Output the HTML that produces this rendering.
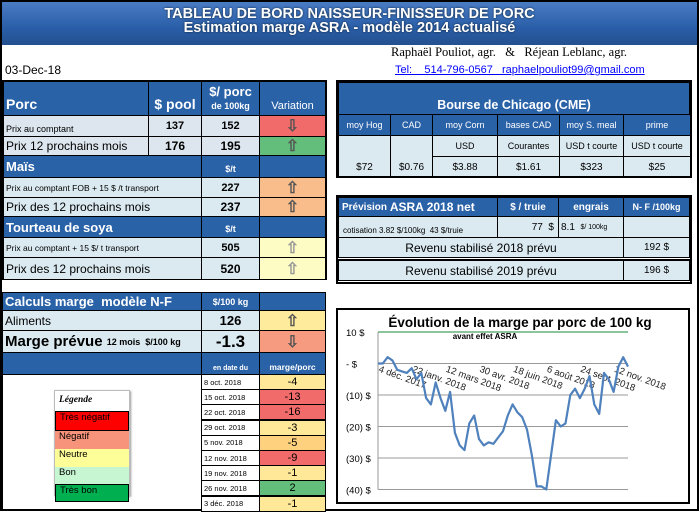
<!DOCTYPE html>
<html><head><meta charset="utf-8"><style>
body{margin:0;width:699px;height:511px;position:relative;overflow:hidden;background:#fff;font-family:"Liberation Sans",sans-serif;}
.a{position:absolute;box-sizing:border-box;}
.c{position:absolute;box-sizing:border-box;border:1px solid #000;display:flex;align-items:center;overflow:hidden;white-space:nowrap;}
.h{background:#2a62a8;color:#fff;font-weight:bold;}
.l{background:#dbeaf1;}
.ctr{justify-content:center;}
.arr{font-size:16px;color:#555;font-weight:bold;}
</style></head><body>
<div class="a" style="left:0;top:0;width:699px;height:511px;border:2px solid #000;"></div>
<div class="a" style="left:2px;top:2px;width:695px;height:43px;background:linear-gradient(#4a7cc4,#2a5ea8 60%,#23508f);color:#fff;font-weight:bold;text-align:center;font-size:14.5px;line-height:14px;padding-top:5px;text-shadow:0 0 2px #123;">
<div>TABLEAU DE BORD NAISSEUR-FINISSEUR DE PORC</div>
<div>Estimation marge ASRA - modèle 2014 actualisé</div></div>
<div class="a" style="left:5px;top:63px;font-size:12px;">03-Dec-18</div>
<div class="a" style="left:391px;top:45px;font-family:'Liberation Serif',serif;font-size:12.5px;white-space:nowrap;">Raphaël Pouliot, agr. &nbsp;&nbsp;&amp;&nbsp;&nbsp; Réjean Leblanc, agr.</div>
<div class="a" style="left:395px;top:64px;font-size:11px;color:#00f;text-decoration:underline;white-space:nowrap;">Tel: &nbsp;&nbsp;&nbsp;514-796-0567 &nbsp;&nbsp;raphaelpouliot99@gmail.com</div>

<div class="a" style="left:2px;top:80px;width:325px;height:200px;border:1px solid #000;"></div>
<div class="c h" style="left:3px;top:81px;width:146px;height:35px;font-size:14px;align-items:flex-end;padding:0 0 3px 2px;">Porc</div>
<div class="c h ctr" style="left:148px;top:81px;width:54px;height:35px;font-size:14px;align-items:flex-end;padding-bottom:3px;">$ pool</div>
<div class="c h ctr" style="left:201px;top:81px;width:59px;height:35px;font-size:13px;flex-direction:column;line-height:14px;"><span>$/ porc</span><span style="font-size:9px">de 100kg</span></div>
<div class="c h ctr" style="left:259px;top:81px;width:67px;height:35px;font-size:11px;font-weight:normal;align-items:flex-end;padding-bottom:3px;">Variation</div>

<div class="c" style="left:3px;top:115px;width:146px;height:22px;background:#dde6ee;font-size:9px;padding-left:2px;padding-top:5px;">Prix au comptant</div>
<div class="c ctr" style="left:148px;top:115px;width:54px;height:22px;background:#dde6ee;font-size:11px;font-weight:bold;">137</div>
<div class="c ctr" style="left:201px;top:115px;width:59px;height:22px;background:#dde6ee;font-size:11px;font-weight:bold;">152</div>
<div class="c ctr arr" style="left:259px;top:115px;width:67px;height:22px;background:#f26b6b;">⇩</div>

<div class="c" style="left:3px;top:136px;width:146px;height:20px;background:#dde6ee;font-size:12px;padding-left:2px;">Prix 12 prochains mois</div>
<div class="c ctr" style="left:148px;top:136px;width:54px;height:20px;background:#dde6ee;font-size:12px;font-weight:bold;">176</div>
<div class="c ctr" style="left:201px;top:136px;width:59px;height:20px;background:#dde6ee;font-size:12px;font-weight:bold;">195</div>
<div class="c ctr arr" style="left:259px;top:136px;width:67px;height:20px;background:#63be7b;">⇧</div>

<div class="c h" style="left:3px;top:155px;width:199px;height:23px;font-size:13px;padding-left:2px;">Maïs</div>
<div class="c h ctr" style="left:201px;top:155px;width:59px;height:23px;font-size:9px;padding-top:4px;">$/t</div>
<div class="c h" style="left:259px;top:155px;width:67px;height:23px;"></div>
<div class="c l" style="left:3px;top:177px;width:199px;height:21px;font-size:8.5px;padding-left:2px;">Prix au comptant FOB + 15 $ /t transport</div>
<div class="c l ctr" style="left:201px;top:177px;width:59px;height:21px;font-size:11px;font-weight:bold;">227</div>
<div class="c ctr arr" style="left:259px;top:177px;width:67px;height:21px;background:#f9bd8c;">⇧</div>
<div class="c l" style="left:3px;top:197px;width:199px;height:20px;font-size:12px;padding-left:2px;">Prix des 12 prochains mois</div>
<div class="c l ctr" style="left:201px;top:197px;width:59px;height:20px;font-size:12px;font-weight:bold;">237</div>
<div class="c ctr arr" style="left:259px;top:197px;width:67px;height:20px;background:#f9bd8c;">⇧</div>

<div class="c h" style="left:3px;top:216px;width:199px;height:22px;font-size:13px;padding-left:2px;">Tourteau de soya</div>
<div class="c h ctr" style="left:201px;top:216px;width:59px;height:22px;font-size:9px;padding-top:4px;">$/t</div>
<div class="c h" style="left:259px;top:216px;width:67px;height:22px;"></div>
<div class="c l" style="left:3px;top:237px;width:199px;height:21px;font-size:8.5px;padding-left:2px;">Prix au comptant + 15 $/ t transport</div>
<div class="c l ctr" style="left:201px;top:237px;width:59px;height:21px;font-size:11px;font-weight:bold;">505</div>
<div class="c ctr arr" style="left:259px;top:237px;width:67px;height:21px;background:#fdfcc4;color:#999;">⇧</div>
<div class="c l" style="left:3px;top:257px;width:199px;height:23px;font-size:12px;padding-left:2px;">Prix des 12 prochains mois</div>
<div class="c l ctr" style="left:201px;top:257px;width:59px;height:23px;font-size:12px;font-weight:bold;">520</div>
<div class="c ctr arr" style="left:259px;top:257px;width:67px;height:23px;background:#fdfcc4;color:#999;">⇧</div>

<div class="a" style="left:336px;top:80px;width:356px;height:98px;border:2px solid #000;"></div>
<div class="c h ctr" style="left:338px;top:82px;width:352px;height:33px;font-size:12.5px;align-items:flex-end;padding-bottom:2px;">Bourse de Chicago (CME)</div>
<div id="cme"></div>

<div class="a" style="left:336px;top:195px;width:356px;height:89px;border:2px solid #000;"></div>
<div class="c h" style="left:338px;top:197px;width:160px;height:20px;font-size:10px;padding-left:3px;">Prévision&nbsp;<span style="font-size:12px">ASRA 2018 net</span></div>
<div class="c h ctr" style="left:497px;top:197px;width:62px;height:20px;font-size:10px;">$ / truie</div>
<div class="c h ctr" style="left:558px;top:197px;width:66px;height:20px;font-size:10px;">engrais</div>
<div class="c h ctr" style="left:623px;top:197px;width:67px;height:20px;font-size:9px;">N- F /100kg</div>
<div class="c l" style="left:338px;top:216px;width:160px;height:22px;font-size:8px;padding:6px 0 0 4px;">cotisation 3.82 $/100kg &nbsp;43 $/truie</div>
<div class="c l" style="left:497px;top:216px;width:62px;height:22px;font-size:10px;justify-content:flex-end;padding-right:4px;">77 &nbsp;$</div>
<div class="c l" style="left:558px;top:216px;width:66px;height:22px;font-size:10px;padding-left:2px;">8.1 &nbsp;<span style="font-size:7px">$/ 100kg</span></div>
<div class="c l" style="left:623px;top:216px;width:67px;height:22px;"></div>
<div class="c l ctr" style="left:338px;top:237px;width:286px;height:21px;font-size:12px;">Revenu stabilisé 2018 prévu</div>
<div class="c l ctr" style="left:623px;top:237px;width:67px;height:21px;font-size:10px;">192 $</div>
<div class="c l ctr" style="left:338px;top:259px;width:286px;height:22px;font-size:12px;border-width:2px 1px 1px 1px;">Revenu stabilisé 2019 prévu</div>
<div class="c l ctr" style="left:623px;top:259px;width:67px;height:22px;font-size:10px;border-width:2px 1px 1px 1px;">196 $</div>

<div class="c h" style="left:2px;top:292px;width:200px;height:19px;font-size:13px;padding-left:2px;">Calculs marge &nbsp;modèle N-F</div>
<div class="c h ctr" style="left:201px;top:292px;width:59px;height:19px;font-size:9px;">$/100 kg</div>
<div class="c h" style="left:259px;top:292px;width:67px;height:19px;"></div>
<div class="c l" style="left:2px;top:310px;width:200px;height:21px;font-size:12px;padding-left:2px;">Aliments</div>
<div class="c l ctr" style="left:201px;top:310px;width:59px;height:21px;font-size:13px;font-weight:bold;">126</div>
<div class="c ctr arr" style="left:259px;top:310px;width:67px;height:21px;background:#ffeb9c;">⇧</div>
<div class="c l" style="left:2px;top:330px;width:200px;height:23px;font-size:15px;font-weight:bold;padding-left:2px;">Marge prévue&nbsp;<span style="font-size:9px">12 mois &nbsp;$/100 kg</span></div>
<div class="c l ctr" style="left:201px;top:330px;width:59px;height:23px;font-size:17px;font-weight:bold;">-1.3</div>
<div class="c ctr arr" style="left:259px;top:330px;width:67px;height:23px;background:#f79b80;">⇩</div>
<div class="c h" style="left:2px;top:352px;width:200px;height:23px;"></div>
<div class="c h ctr" style="left:201px;top:352px;width:59px;height:23px;font-size:7px;align-items:flex-end;padding-bottom:2px;">en date du</div>
<div class="c h ctr" style="left:259px;top:352px;width:67px;height:23px;font-size:8.5px;align-items:flex-end;padding-bottom:2px;">marge/porc</div>
<div id="hist"></div>
<div class="a" style="left:2px;top:374px;width:1px;height:137px;background:#000;"></div>

<div class="a" style="left:54px;top:390px;width:76px;height:106px;border:1px solid #bbb;box-shadow:1px 1px 2px #999;font-size:9.5px;">
<div style="height:16px;font-style:italic;font-family:'Liberation Serif',serif;font-weight:bold;padding:4px 0 0 4px;">Légende</div>
<div style="height:18px;background:#f00;border:1px solid #000;padding-left:4px;">Très négatif</div>
<div style="height:18px;background:#f7937a;padding-left:4px;">Négatif</div>
<div style="height:18px;background:#fefe99;padding-left:4px;">Neutre</div>
<div style="height:17px;background:#c6f7d2;padding-left:4px;">Bon</div>
<div style="height:16px;background:#00b050;border:1px solid #000;padding-left:4px;">Très bon</div>
</div>

<div class="a" style="left:336px;top:308px;width:354px;height:196px;border:2px solid #000;"></div>
<svg class="a" style="left:0;top:0" width="699" height="511">
<text x="520" y="327" text-anchor="middle" font-family="Liberation Sans" font-weight="bold" font-size="13.5">Évolution de la marge par porc de 100 kg</text>
<text x="485" y="339" text-anchor="middle" font-family="Liberation Sans" font-weight="bold" font-size="8">avant effet ASRA</text>
<g id="plot"></g>
</svg>

<script>
const cmeHeads=["moy Hog","CAD","moy Corn","bases CAD","moy S. meal","prime"];
const cmeUnits=["","","USD","Courantes","USD t courte","USD t courte"];
const cmeVals=["$72","$0.76","$3.88","$1.61","$323","$25"];
const cx=[338,390,432,497,559,623,690];
const cme=document.getElementById('cme');
cmeHeads.forEach((h,i)=>{
  const w=cx[i+1]-cx[i]+1;
  let d=document.createElement('div');d.className='c h ctr';d.style.cssText=`left:${cx[i]}px;top:114px;width:${w}px;height:22px;font-size:9px;font-weight:normal;`;d.textContent=h;
  
  
  cme.appendChild(d);
  if(i>=2){d=document.createElement('div');d.className='c l ctr';d.style.cssText=`left:${cx[i]}px;top:135px;width:${w}px;height:22px;font-size:9px;`;d.textContent=cmeUnits[i];
  
  
  cme.appendChild(d);}
  const top=i>=2?156:135,hh=i>=2?21:42;
  d=document.createElement('div');d.className='c l ctr';d.style.cssText=`left:${cx[i]}px;top:${top}px;width:${w}px;height:${hh}px;font-size:10px;align-items:flex-end;padding-bottom:3px;`;d.textContent=cmeVals[i];
  
  
  cme.appendChild(d);
});
const histDates=["8 oct. 2018","15 oct. 2018","22 oct. 2018","29 oct. 2018","5 nov. 2018","12 nov. 2018","19 nov. 2018","26 nov. 2018","3 déc. 2018"];
const histVals=[-4,-13,-16,-3,-5,-9,-1,2,-1];
const hist=document.getElementById('hist');
function col(v){return v>=2?'#63be7b':v<=-9?'#f26b6b':v<=-5?'#fdd17e':'#ffe999';}
histDates.forEach((t,i)=>{
  const y=374+i*15.2;
  let d=document.createElement('div');d.className='c';d.style.cssText=`left:201px;top:${y}px;width:59px;height:16px;font-size:7.5px;padding-left:2px;background:#fff;`;d.textContent=t;
  
  
  hist.appendChild(d);
  d=document.createElement('div');d.className='c ctr';d.style.cssText=`left:259px;top:${y}px;width:67px;height:16px;font-size:11px;background:${col(histVals[i])};`;d.textContent=histVals[i];
  
  
  hist.appendChild(d);
});
const marginVals=[0,0,2,1,-2,-2.5,-3,-1.5,-5,-3,-11,-13,-6,-11,-15,-9,-22,-26,-27.5,-19,-16.5,-24,-26,-25,-25.5,-23.5,-21.5,-16.5,-13,-15.5,-17,-21,-29,-39,-39,-40,-29,-18,-20,-19,-10,-8,-11,-8,-4,-13,-16,-3,-5,-9,-1,2,-1];
const yTicks=[10,0,-10,-20,-30,-40];
const yTickLabels=["10  $","-   $","(10) $","(20) $","(30) $","(40) $"];
const xLabels=["4 déc. 2017","22 janv. 2018","12 mars 2018","30 avr. 2018","18 juin 2018","6 août 2018","24 sept. 2018","12 nov. 2018"];
const xLabelIdx=[0,7,14,21,28,35,42,49];
const X0=378,X1=628;
const xs=i=>X0+(X1-X0)*i/(marginVals.length-1);
const ys=v=>363.5-v*3.15;
const NS='http://www.w3.org/2000/svg';
const g=document.getElementById('plot');
function el(t,a){const e=document.createElementNS(NS,t);for(const k in a)e.setAttribute(k,a[k]);g.appendChild(e);return e;}
yTicks.forEach((v,i)=>{
  const ln=el('line',{x1:X0,x2:628,y1:ys(v),y2:ys(v),stroke:v===10?'#1a8a3a':'#999','stroke-width':1});
  
  
  const t=el('text',{x:346,y:ys(v)+4,'font-size':'9.5','font-family':'Liberation Sans'});t.textContent=yTickLabels[i];
  
  
});
const ax=el('line',{x1:X0,x2:X0,y1:ys(10),y2:ys(-40),stroke:'#999'});


xLabelIdx.forEach((ix,i)=>{
  const x=xs(ix),y=ys(0)+8;
  const t=el('text',{x:x,y:y,'font-size':'9.5','font-family':'Liberation Sans',fill:'#222',transform:`rotate(20 ${x} ${y})`});t.textContent=xLabels[i];
  
  
});
const p=el('polyline',{points:marginVals.map((v,i)=>xs(i).toFixed(1)+','+ys(v).toFixed(1)).join(' '),fill:'none',stroke:'#4f81bd','stroke-width':2.2,'stroke-linejoin':'round'});


</script>
</body></html>
